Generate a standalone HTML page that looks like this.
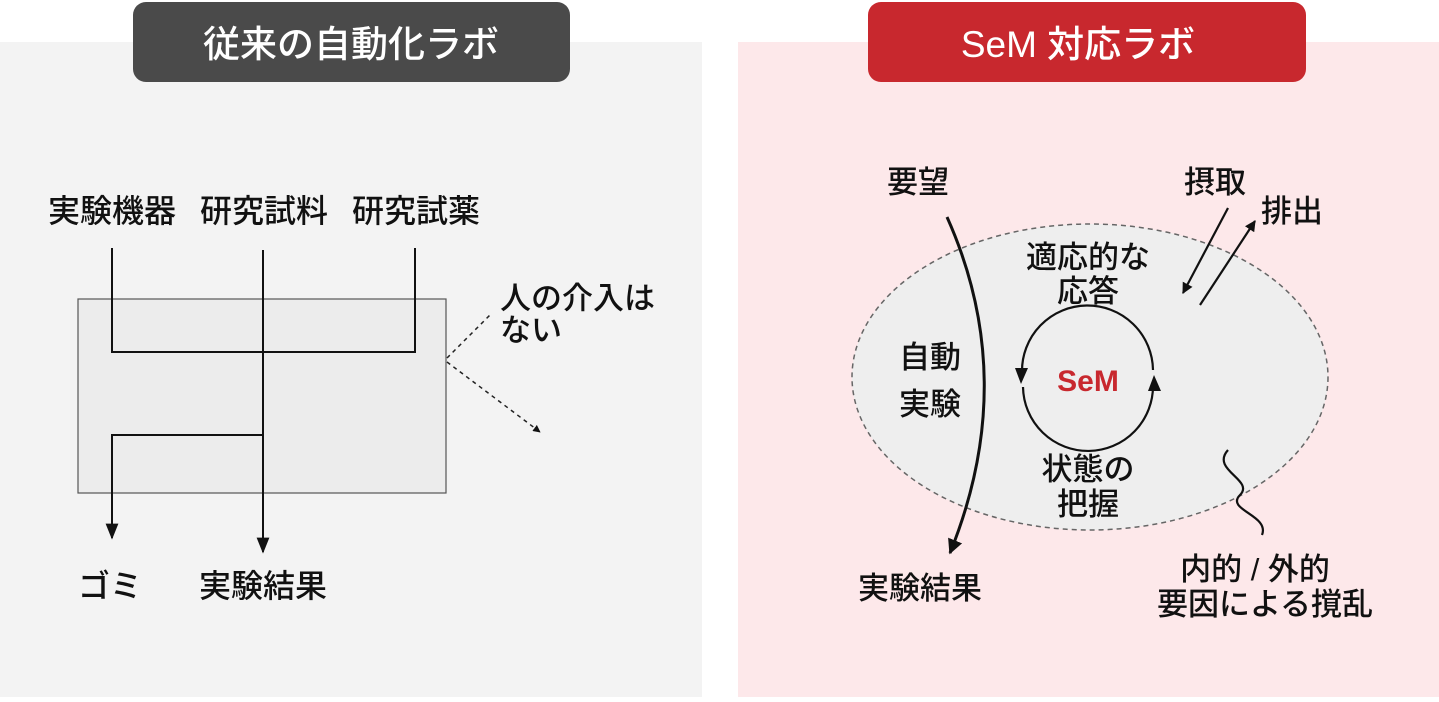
<!DOCTYPE html>
<html><head><meta charset="utf-8"><style>
body{margin:0;background:#fff;}
svg text{font-family:"Liberation Sans","Noto Sans CJK JP",sans-serif;}
</style></head><body>
<svg width="1439" height="697" viewBox="0 0 1439 697" xmlns="http://www.w3.org/2000/svg">
<defs>
<marker id="a" viewBox="0 0 10 10" refX="9" refY="5" markerWidth="8" markerHeight="8" orient="auto"><path d="M0,1 L10,5 L0,9 z" fill="#111"/></marker>
<marker id="b" viewBox="0 0 10 10" refX="9" refY="5" markerWidth="5" markerHeight="5" orient="auto"><path d="M0,0 L10,5 L0,10 z" fill="#111"/></marker>
</defs>
<rect x="0" y="42" width="702" height="655" fill="#f3f3f3"/>
<rect x="738" y="42" width="701" height="655" fill="#fde8ea"/>
<rect x="133" y="2" width="437" height="80" rx="13" fill="#4a4a4a"/>
<text x="351" y="57" font-size="37" font-weight="500" fill="#fff" text-anchor="middle">従来の自動化ラボ</text>
<rect x="868" y="2" width="438" height="80" rx="13" fill="#c8282e"/>
<text x="1078" y="57" font-size="37" font-weight="500" fill="#fff" text-anchor="middle">SeM 対応ラボ</text>

<g font-size="32" font-weight="500" fill="#111" text-anchor="middle">
<text x="112" y="222">実験機器</text>
<text x="264" y="222">研究試料</text>
<text x="416" y="222">研究試薬</text>
<text x="110" y="597">ゴミ</text>
<text x="263" y="597">実験結果</text>
</g>
<rect x="78" y="299" width="368" height="194" fill="#ececec" stroke="#555" stroke-width="1.2"/>
<g stroke="#111" stroke-width="2" fill="none">
<path d="M112,248 V352 H415 V248"/>
<path d="M263,250 V552" marker-end="url(#a)"/>
<path d="M263,435 H112 V538" marker-end="url(#a)"/>
</g>
<g stroke="#222" stroke-width="1.5" stroke-dasharray="4,4" fill="none">
<path d="M447,358 L492,313"/>
<path d="M447,362 L540,432" marker-end="url(#b)"/>
</g>
<g font-size="31" font-weight="500" fill="#111">
<text x="500" y="309">人の介入は</text>
<text x="500" y="341">ない</text>
</g>

<ellipse cx="1090" cy="377" rx="238" ry="153" fill="#eeeeee" stroke="#666" stroke-width="1.5" stroke-dasharray="5,4"/>
<path d="M947,217 Q1020,380 950,553" stroke="#111" stroke-width="3" fill="none" marker-end="url(#b)"/>
<g stroke="#111" stroke-width="2.2" fill="none">
<path d="M1022,372 A65,65 0 0 1 1153,370"/>
<path d="M1153,385 A65,65 0 0 1 1023,387"/>
<path d="M1228,208 L1183,293" marker-end="url(#b)"/>
<path d="M1200,305 L1255,221" marker-end="url(#b)"/>
<path d="M1228,450 C1210,470 1255,480 1240,495 C1225,510 1270,515 1262,535"/>
</g>
<path d="M1015,368 L1028,368 L1021,384 z" fill="#111"/>
<path d="M1148,391 L1161,391 L1154,375 z" fill="#111"/>
<text x="1088" y="391" font-size="30" font-weight="bold" fill="#c8282e" text-anchor="middle">SeM</text>
<g font-size="31" font-weight="500" fill="#111" text-anchor="middle">
<text x="918" y="193">要望</text>
<text x="920" y="599">実験結果</text>
<text x="930" y="368">自動</text>
<text x="930" y="415">実験</text>
<text x="1088" y="268">適応的な</text>
<text x="1088" y="302">応答</text>
<text x="1088" y="480">状態の</text>
<text x="1088" y="515">把握</text>
<text x="1215" y="193">摂取</text>
<text x="1292" y="222">排出</text>
<text x="1255" y="580">内的 / 外的</text>
<text x="1265" y="615">要因による撹乱</text>
</g>
</svg>
</body></html>
